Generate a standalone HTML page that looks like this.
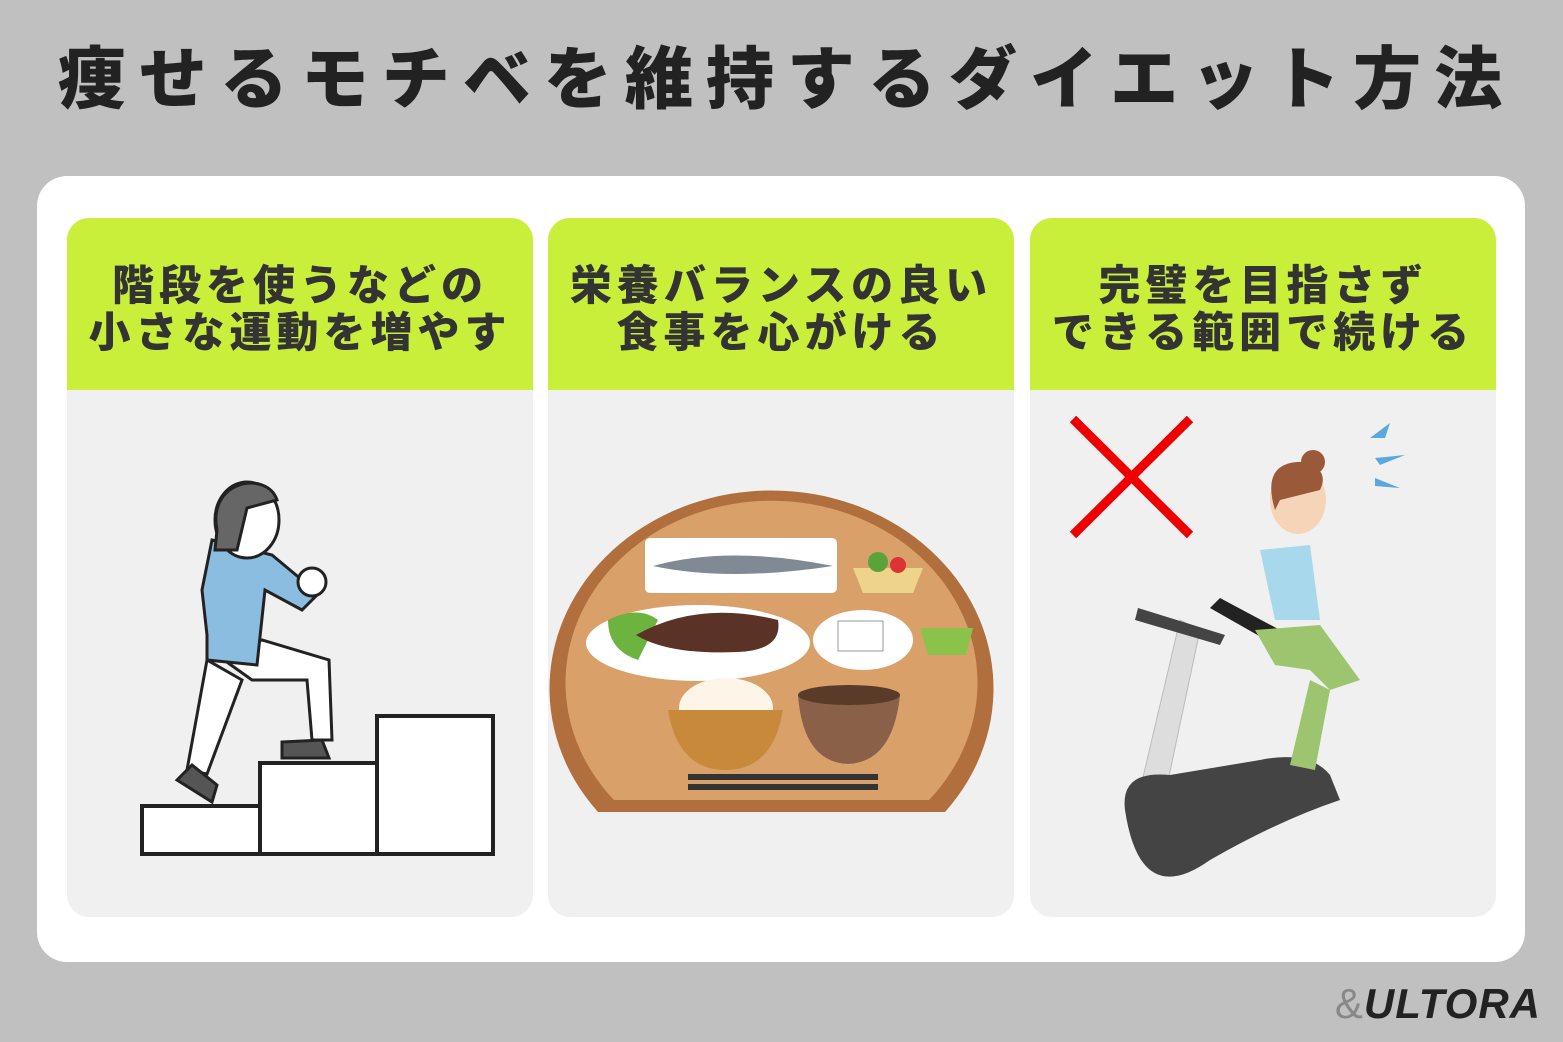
<!DOCTYPE html>
<html><head><meta charset="utf-8"><style>
*{margin:0;padding:0;box-sizing:border-box}
body{width:1563px;height:1042px;background:#c0c0c0;position:relative;overflow:hidden;font-family:"Liberation Sans","Noto Sans CJK JP",sans-serif}
.title{position:absolute;left:0;top:38px;width:1563px;text-align:center;font-size:68px;font-weight:900;color:#222;letter-spacing:13px;line-height:84px;padding-left:10px}
.card{position:absolute;left:37px;top:176px;width:1488px;height:786px;background:#fff;border-radius:30px}
.panel{position:absolute;top:218px;width:466px;height:699px;background:#f0f0f0;border-radius:22px;overflow:hidden}
.head{height:172px;background:#c9ef3a;display:flex;align-items:center;justify-content:center;text-align:center;font-size:42px;font-weight:900;color:#333;line-height:47px;letter-spacing:5px;padding-top:10px}
.panel svg{position:absolute;left:0;top:172px}
.logo{position:absolute;right:22px;top:980px;font-size:42px;font-weight:900;font-style:italic;color:#222;letter-spacing:1px}
.logo span{color:#888;font-weight:400;font-style:normal}
</style></head><body>
<div class="title">痩せるモチベを維持するダイエット方法</div>
<div class="card"></div>

<div class="panel" style="left:67px">
<div class="head">階段を使うなどの<br>小さな運動を増やす</div>
<svg width="466" height="527" viewBox="0 0 466 527">
<g stroke="#222" stroke-width="4" fill="#fff">
<rect x="75" y="416" width="118" height="48"/>
<rect x="193" y="373" width="117" height="91"/>
<rect x="310" y="326" width="116" height="138"/>
</g>
<path d="M140 270 L120 380 L140 384 L175 290 Z" fill="#fff" stroke="#222" stroke-width="3"/>
<path d="M150 265 L185 290 L240 290 L245 350 L265 350 L262 270 L195 250 Z" fill="#fff" stroke="#222" stroke-width="3"/>
<path d="M110 390 L125 375 L150 395 L145 412 Z" fill="#555" stroke="#222" stroke-width="3"/>
<path d="M215 352 L255 350 L262 368 L215 368 Z" fill="#555" stroke="#222" stroke-width="3"/>
<path d="M145 150 L135 200 L140 245 L140 270 L190 275 L198 200 L235 220 L255 200 L235 190 L205 165 Z" fill="#8bbde0" stroke="#222" stroke-width="3"/>
<circle cx="245" cy="192" r="14" fill="#fff" stroke="#222" stroke-width="3"/>
<ellipse cx="180" cy="130" rx="32" ry="38" fill="#fff" stroke="#222" stroke-width="3"/>
<path d="M150 140 C140 90 200 80 210 110 L180 118 L170 160 L148 160 Z" fill="#666" stroke="#222" stroke-width="3"/>
</svg></div>

<div class="panel" style="left:548px">
<div class="head">栄養バランスの良い<br>食事を心がける</div>
<svg width="466" height="527" viewBox="0 0 466 527">
<path d="M50 422 A222 198 0 1 1 397 422 Z" fill="#b26f3e"/>
<path d="M66 410 A206 182 0 1 1 381 410 Z" fill="#d9a06a"/>
<rect x="97" y="148" width="192" height="55" rx="5" fill="#fff"/>
<path d="M105 176 Q180 155 285 176 Q180 192 105 176Z" fill="#7f8a95"/>
<ellipse cx="150" cy="253" rx="112" ry="38" fill="#fff"/>
<path d="M60 230 Q90 215 110 230 L90 270 Q60 260 60 230Z" fill="#6db33f"/>
<path d="M88 245 Q150 210 230 230 Q235 260 190 262 Q120 265 88 245Z" fill="#5a3326"/>
<ellipse cx="315" cy="250" rx="50" ry="30" fill="#fff"/>
<rect x="290" y="231" width="45" height="30" fill="#fff" stroke="#999"/>
<path d="M305 178 L375 178 L365 203 L315 203Z" fill="#eed38a"/>
<circle cx="330" cy="172" r="10" fill="#5aa33a"/><circle cx="350" cy="175" r="8" fill="#d33"/>
<path d="M372 238 L425 238 L418 265 L380 265Z" fill="#8bc34a"/>
<ellipse cx="178" cy="318" rx="47" ry="30" fill="#fdf6e8"/>
<path d="M120 320 L235 320 Q225 380 178 380 Q130 380 120 320Z" fill="#c88a3a"/>
<path d="M250 305 L352 305 Q345 372 300 374 Q255 372 250 305Z" fill="#8a6148"/>
<ellipse cx="301" cy="305" rx="51" ry="10" fill="#5a3a28"/>
<rect x="140" y="384" width="190" height="6" fill="#333"/>
<rect x="140" y="394" width="190" height="6" fill="#333"/>
</svg></div>

<div class="panel" style="left:1030px">
<div class="head">完璧を目指さず<br>できる範囲で続ける</div>
<svg width="466" height="527" viewBox="0 0 466 527">
<path d="M43 29 L160 145 M160 29 L43 145" stroke="#e00" stroke-width="9"/>
<g fill="#5aa8dc"><path d="M340 48 l20 -15 l-5 15z"/><path d="M345 68 l30 -3 l-25 10z"/><path d="M345 88 l25 10 l-25 -2z"/></g>
<path d="M150 230 L110 400 L135 405 L170 240 Z" fill="#ddd" stroke="#bbb"/>
<path d="M105 230 L190 255 L195 245 L108 218Z" fill="#444"/>
<path d="M180 218 L245 255 L250 240 L190 208Z" fill="#222"/>
<path d="M95 420 Q90 380 140 385 L230 370 Q280 360 300 385 L310 410 Q250 430 180 470 Q110 520 95 420Z" fill="#444"/>
<path d="M230 160 L280 155 L290 230 L245 230Z" fill="#a8d8ec"/>
<path d="M225 240 L290 235 L330 290 L300 300 L280 280 L245 275 Z" fill="#9dc56f"/>
<path d="M280 290 L300 300 L285 380 L260 375Z" fill="#9dc56f"/>
<ellipse cx="268" cy="110" rx="28" ry="34" fill="#f6d4b8"/>
<path d="M245 120 Q230 70 275 72 Q300 80 290 100 L250 110Z" fill="#9a5a3a"/>
<circle cx="283" cy="72" r="12" fill="#9a5a3a"/>
</svg></div>

<div class="logo"><span>&amp;</span>ULTORA</div>
</body></html>
